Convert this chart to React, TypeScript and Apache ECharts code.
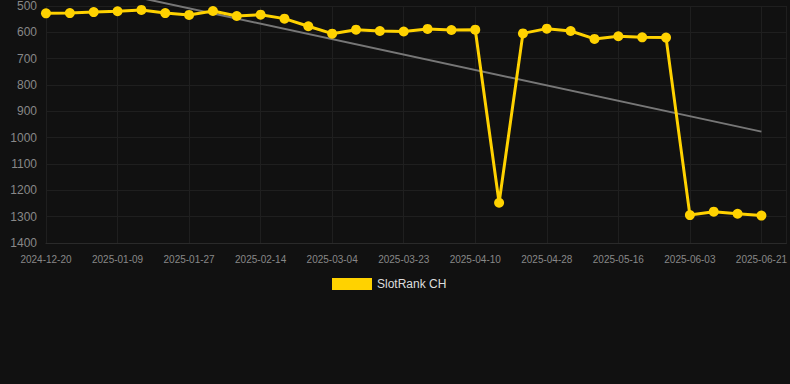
import React, { useEffect, useRef } from "react";
import * as echarts from "echarts";

const dates: string[] = [
  "2024-12-20", "2024-12-27", "2025-01-03", "2025-01-09", "2025-01-15", "2025-01-21",
  "2025-01-27", "2025-02-02", "2025-02-08", "2025-02-14", "2025-02-20", "2025-02-26",
  "2025-03-04", "2025-03-10", "2025-03-17", "2025-03-23", "2025-03-29", "2025-04-04",
  "2025-04-10", "2025-04-16", "2025-04-22", "2025-04-28", "2025-05-04", "2025-05-10",
  "2025-05-16", "2025-05-22", "2025-05-28", "2025-06-03", "2025-06-09", "2025-06-15",
  "2025-06-21",
];

const ranks: number[] = [
  528, 527, 523, 520, 515, 527, 534, 519, 538, 533,
  548, 577, 605, 590, 595, 597, 587, 591, 590, 1247,
  604, 586, 595, 625, 615, 619, 620, 1294, 1281, 1289, 1296,
];

const trendStart = 392;
const trendEnd = 977;

const yTicks = { min: 500, max: 1400, interval: 100 };

export default function App() {
  const ref = useRef<HTMLDivElement>(null);

  useEffect(() => {
    if (!ref.current) return;
    const chart = echarts.init(ref.current, undefined, { renderer: "svg" });
    const lastIdx = dates.length - 1;
    chart.setOption({
      animation: false,
      backgroundColor: "#111111",
      grid: { left: 46, right: 0, top: 6, bottom: 141, containLabel: false },
      legend: {
        data: ["SlotRank CH"],
        top: 273,
        left: 327,
        icon: "rect",
        itemWidth: 40,
        itemHeight: 12,
        itemGap: 10,
        textStyle: { color: "#dddddd", fontSize: 12, fontFamily: "Arial, Liberation Sans, sans-serif" },
      },
      xAxis: {
        type: "value",
        min: 0,
        max: 31.05,
        interval: 3,
        axisLine: { show: true, lineStyle: { color: "#2a2a2a" } },
        axisTick: { show: false },
        splitLine: { show: true, lineStyle: { color: "#1f1f1f", width: 1 } },
        axisLabel: {
          color: "#888888",
          fontSize: 10,
          margin: 11,
          fontFamily: "Arial, Liberation Sans, sans-serif",
          formatter: (v: number) => {
            const i = Math.round(v);
            if (Math.abs(v - i) > 1e-6 || i % 3 !== 0) return "";
            return dates[i] ?? "";
          },
        },
      },
      yAxis: {
        type: "value",
        inverse: true,
        min: yTicks.min,
        max: yTicks.max,
        interval: yTicks.interval,
        axisLine: { show: false },
        axisTick: { show: false },
        splitLine: { show: true, lineStyle: { color: "#1f1f1f", width: 1 } },
        axisLabel: {
          color: "#888888",
          fontSize: 12,
          margin: 9,
          fontFamily: "Arial, Liberation Sans, sans-serif",
          formatter: (v: number) => String(v),
        },
      },
      series: [
        {
          name: "Trend",
          type: "line",
          data: [
            [0, trendStart],
            [lastIdx, trendEnd],
          ],
          clip: false,
          showSymbol: false,
          symbol: "none",
          lineStyle: { color: "#777777", width: 2 },
          silent: true,
          z: 1,
        },
        {
          name: "SlotRank CH",
          type: "line",
          data: ranks.map((v, i) => [i, v]),
          symbol: "circle",
          symbolSize: 10,
          lineStyle: { color: "#FFD200", width: 3 },
          itemStyle: { color: "#FFD200" },
          z: 2,
        },
      ],
    });
    return () => chart.dispose();
  }, []);

  return (
    <div
      ref={ref}
      style={{ position: "fixed", left: 0, top: 0, width: 790, height: 384 }}
    />
  );
}
